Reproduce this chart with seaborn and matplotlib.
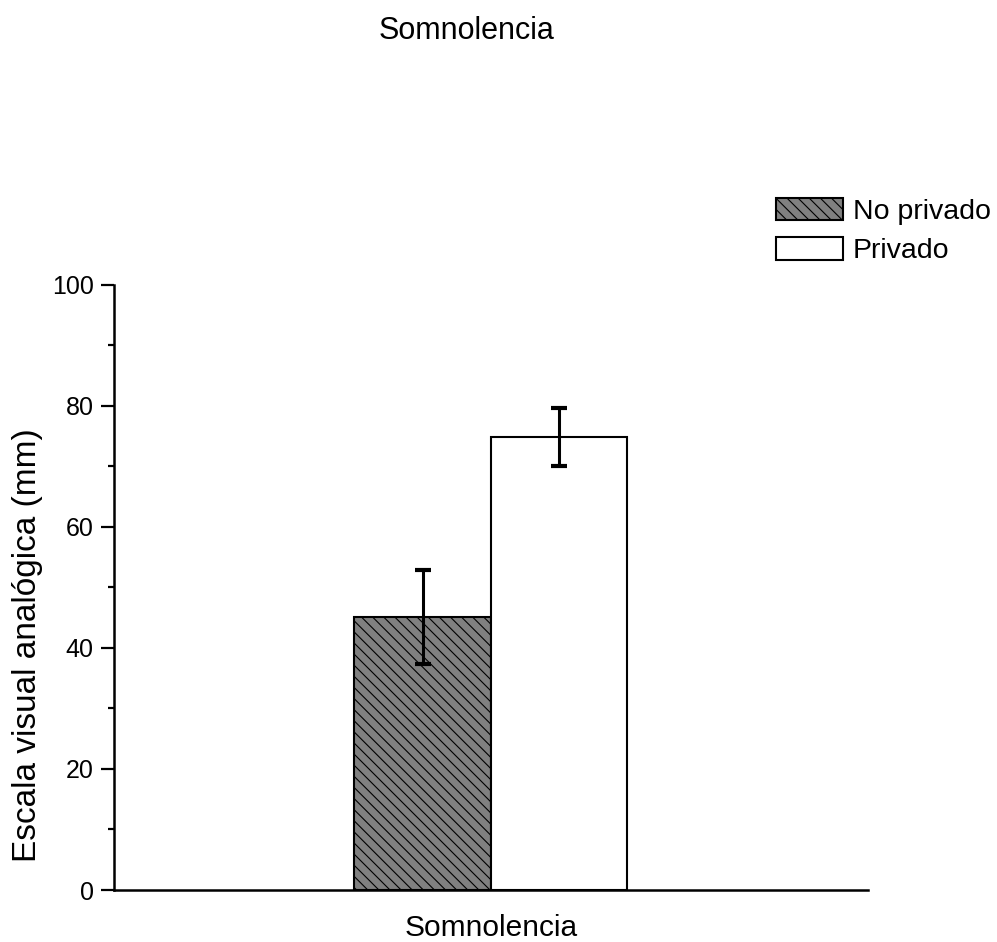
import matplotlib
matplotlib.use('Agg')
import matplotlib.pyplot as plt
from matplotlib.container import BarContainer
import seaborn as sns
import pandas as pd
import numpy as np

# data
categories = ['Somnolencia']
groups = ['No privado', 'Privado']
means = [45.1, 74.8]
errors = [7.8, 4.8]

df = pd.DataFrame({'categoria': categories * 2, 'grupo': groups, 'valor': means})

sns.set_style('ticks')
plt.rcParams['font.family'] = ['Liberation Sans', 'DejaVu Sans']
plt.rcParams['text.color'] = 'black'
plt.rcParams['axes.labelcolor'] = 'black'
plt.rcParams['xtick.color'] = 'black'
plt.rcParams['ytick.color'] = 'black'
plt.rcParams['axes.edgecolor'] = 'black'
plt.rcParams['hatch.color'] = '#333333'
plt.rcParams['hatch.linewidth'] = 0.8

fig = plt.figure(figsize=(9.97, 9.42), dpi=100)
ax = fig.add_axes([0.1143, 0.0552, 0.7563, 0.6423])

sns.barplot(data=df, x='categoria', y='valor', hue='grupo', hue_order=groups,
            palette=['#808080', 'white'], width=0.362, errorbar=None,
            edgecolor='black', linewidth=1.5, ax=ax, legend=False)

hatches = ['\\\\\\', '']
bar_conts = [c for c in ax.containers if isinstance(c, BarContainer)]
handles = []
for i, cont in enumerate(bar_conts):
    for bar in cont.patches:
        bar.set_hatch(hatches[i])
        x = bar.get_x() + bar.get_width() / 2
        ax.errorbar(x, bar.get_height(), yerr=errors[i], fmt='none',
                    ecolor='black', elinewidth=2.2, capsize=5.5, capthick=3, zorder=5)
    handles.append(cont.patches[0])

ax.set_xlim(-0.5, 0.5)
ax.set_ylim(0, 100)
ax.set_yticks([0, 20, 40, 60, 80, 100])
ax.set_yticks([10, 30, 50, 70, 90], minor=True)
ax.tick_params(axis='y', which='major', length=9.5, width=1.6, labelsize=18, pad=5, direction='out')
ax.tick_params(axis='y', which='minor', length=4.5, width=1.6, direction='out')
ax.tick_params(axis='x', length=0, labelbottom=False)
ax.set_xlabel('Somnolencia', fontsize=21.5, labelpad=17)
ax.set_ylabel('Escala visual analógica (mm)', fontsize=24)
ax.yaxis.set_label_coords(-0.094, 0.405)
for s in ['left', 'bottom']:
    ax.spines[s].set_linewidth(1.8)
sns.despine(ax=ax)

leg = ax.legend(handles, groups, loc='upper right', bbox_to_anchor=(1.178, 1.163), frameon=False,
                fontsize=20.5, handlelength=2.35, handleheight=0.85, handletextpad=0.35,
                labelspacing=0.42, borderaxespad=0)

fig.text(0.468, 0.967, 'Somnolencia', ha='center', va='center', fontsize=22)

fig.savefig('out.png', dpi=100, facecolor='white')
